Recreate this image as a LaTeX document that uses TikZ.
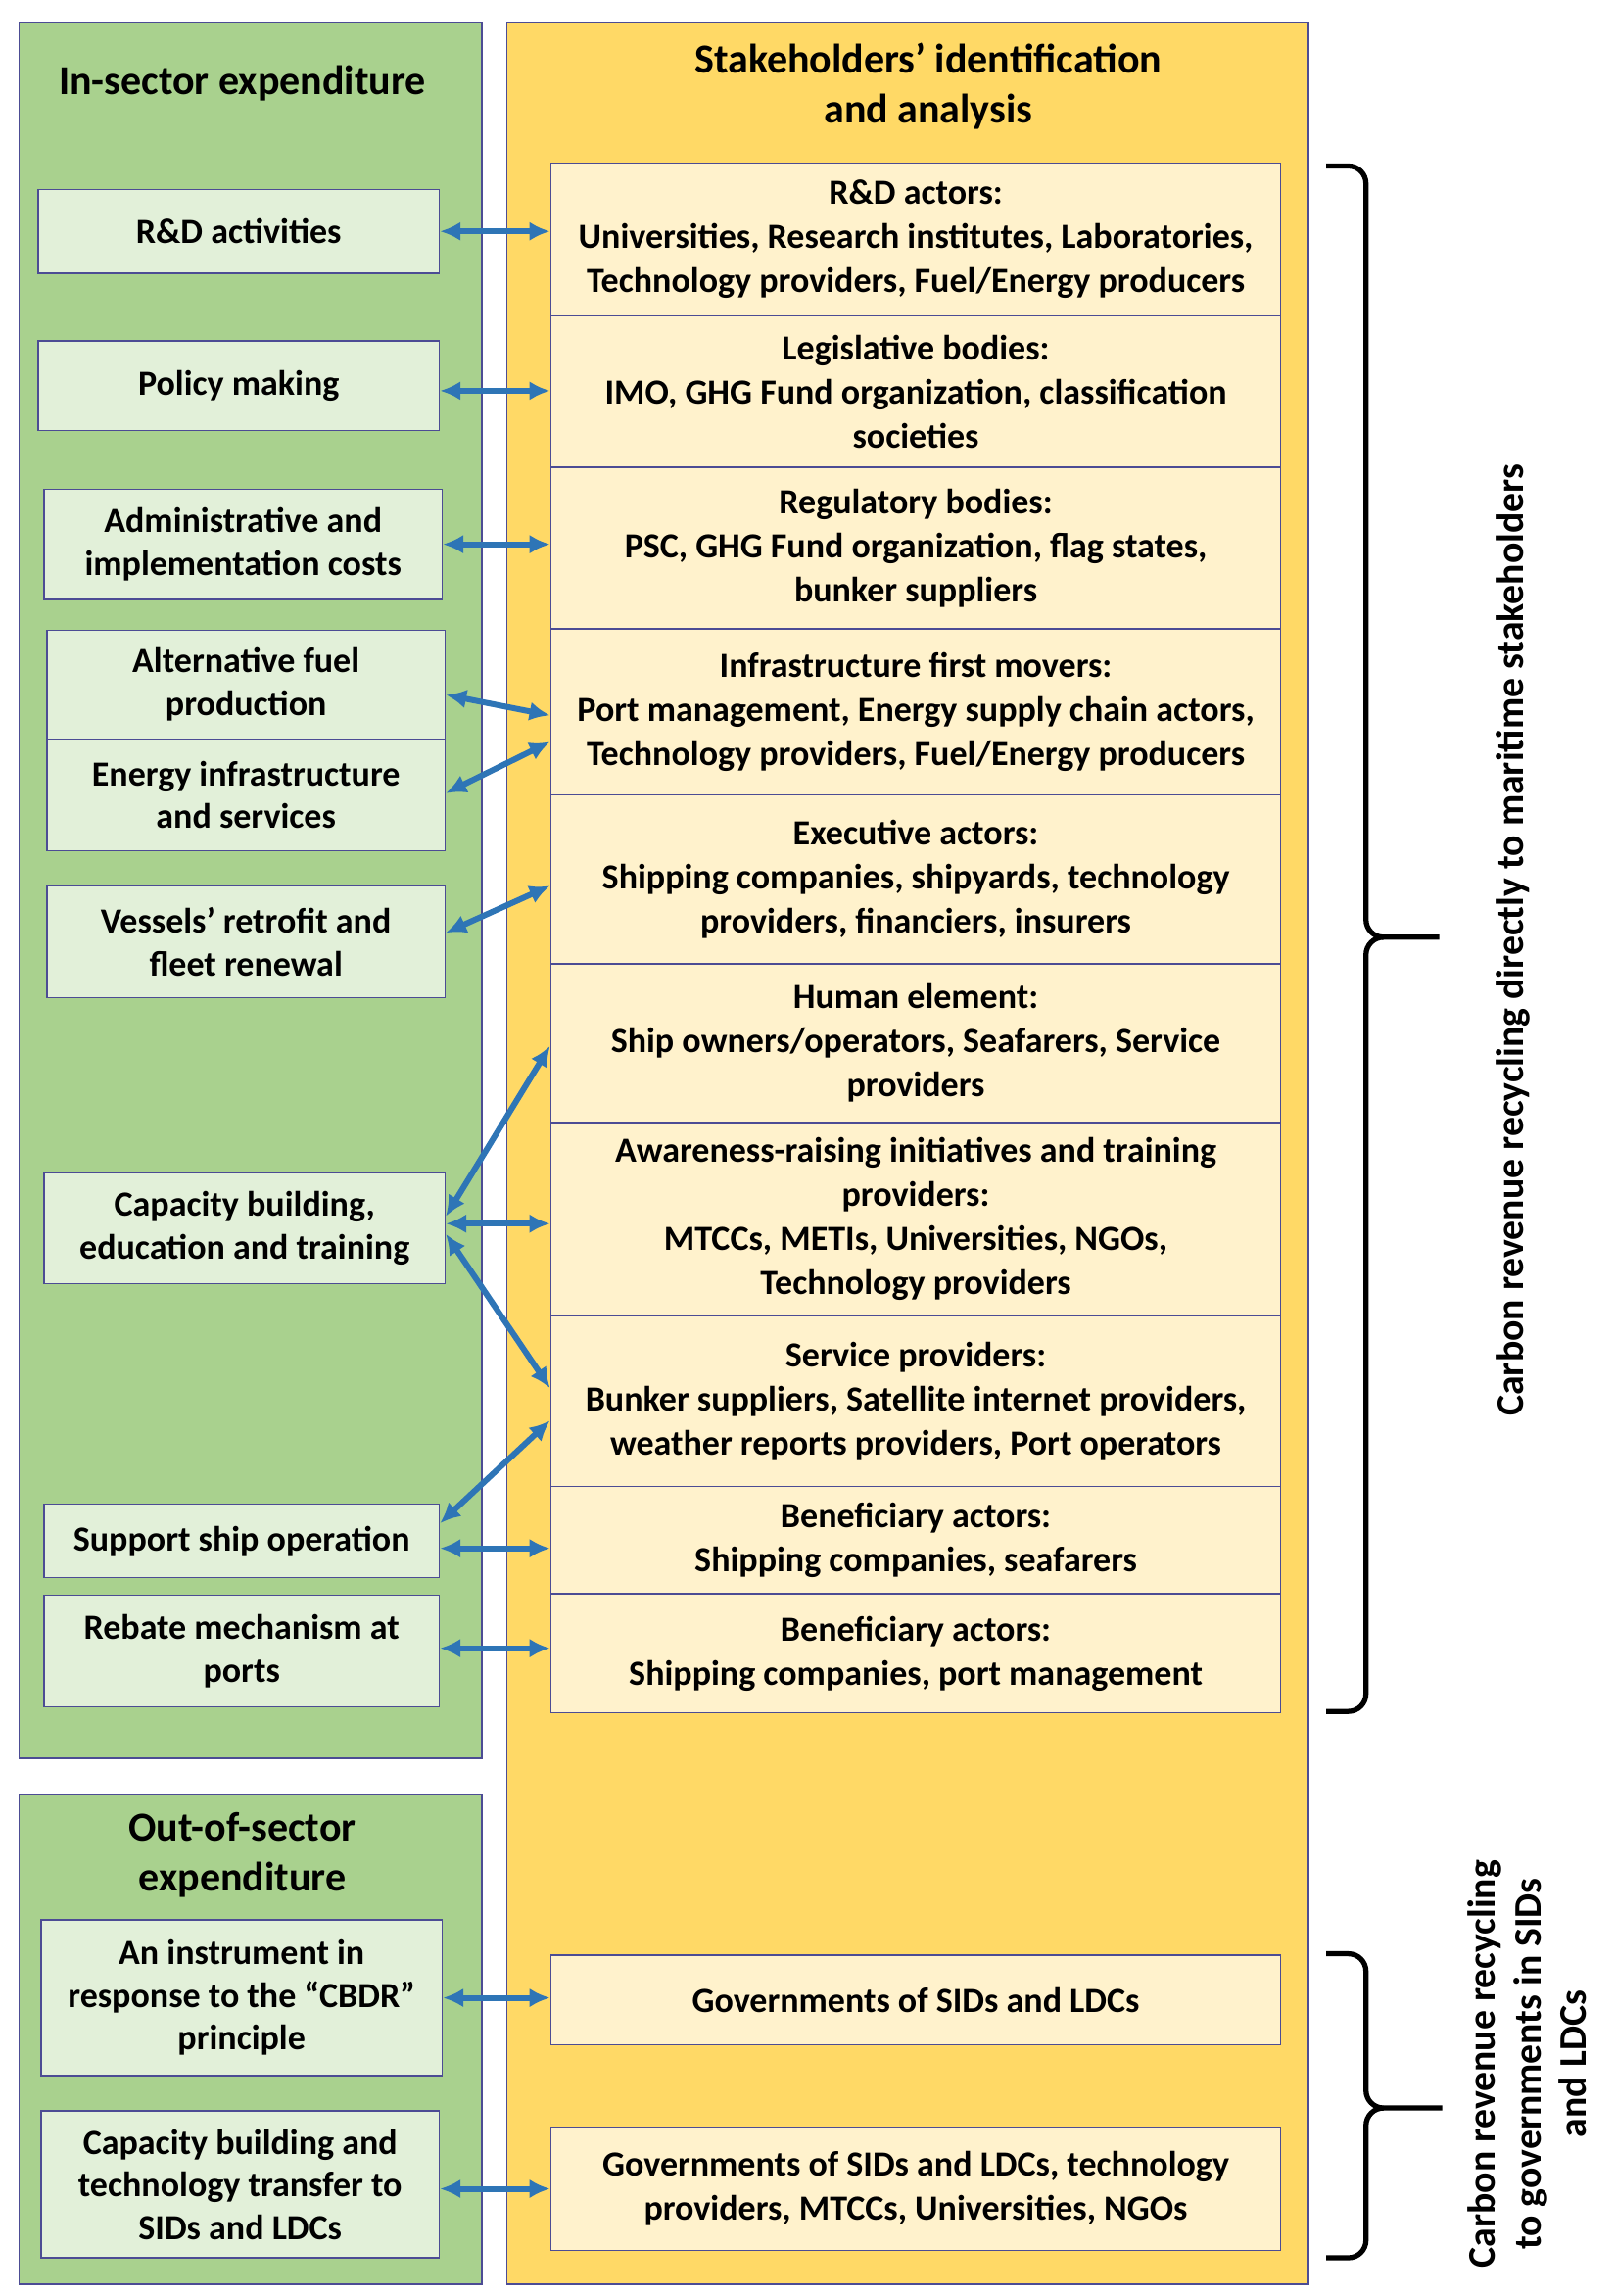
\documentclass[tikz,border=0pt]{standalone}
\usepackage{fontspec}
\setmainfont{Carlito}
\begin{document}
\begin{tikzpicture}[x=1pt,y=-1pt,
 panel/.style={draw=black!60!blue!70,line width=1pt},
 lbox/.style={draw=black!60!blue!70,line width=1pt,fill=lg,align=center,font=\fontsize{24}{29}\selectfont\bfseries,inner sep=0pt},
 rbox/.style={draw=black!60!blue!70,line width=1pt,fill=ly,align=center,font=\fontsize{24}{30}\selectfont\bfseries,inner sep=0pt},
 ttl/.style={align=center,font=\fontsize{28}{34}\selectfont\bfseries},
 arr/.style={<->,>={Latex[length=14pt,width=13pt]},draw=ab,line width=4pt},
 br/.style={draw=black,line width=3.5pt}]
\usetikzlibrary{arrows.meta}
\definecolor{lg}{HTML}{E2F0D9}\definecolor{ly}{HTML}{FFF2CC}
\definecolor{gp}{HTML}{A9D18E}\definecolor{yp}{HTML}{FFD966}\definecolor{ab}{HTML}{2E75B6}
\useasboundingbox (0,0) rectangle (1100,1563);
\fill[white] (0,0) rectangle (1100,1563);
\filldraw[panel,fill=gp] (13,15) rectangle (328,1197);
\filldraw[panel,fill=yp] (345,15) rectangle (891,1555);
\filldraw[panel,fill=gp] (13,1222) rectangle (328,1555);
\node[ttl] (t1) at (165,57) {In-sector expenditure};
\node[ttl] (t2) at (632,59) {Stakeholders’ identification\\and analysis};
\node[ttl] (t3) at (165,1263) {Out-of-sector\\expenditure};
\newcommand\LB[6]{\node[lbox,minimum width=#3-#2,minimum height=#5-#4] (#1) at ({(#2+#3)/2},{(#4+#5)/2}) {#6};}
\LB{l1}{26}{299}{129}{186}{R\&D activities}
\LB{l2}{26}{299}{232}{293}{Policy making}
\LB{l3}{30}{301}{333}{408}{Administrative and\\implementation costs}
\LB{l4}{32}{303}{429}{503}{Alternative fuel\\production}
\LB{l5}{32}{303}{503}{579}{Energy infrastructure\\and services}
\LB{l6}{32}{303}{603}{679}{Vessels’ retrofit and\\fleet renewal}
\LB{l7}{30}{303}{798}{874}{Capacity building,\\education and training}
\LB{l8}{30}{299}{1024}{1074}{Support ship operation}
\LB{l9}{30}{299}{1086}{1162}{Rebate mechanism at\\ports}
\LB{l10}{28}{301}{1307}{1413}{An instrument in\\response to the “CBDR”\\principle}
\LB{l11}{28}{299}{1437}{1537}{Capacity building and\\technology transfer to\\SIDs and LDCs}
\newcommand\RB[4]{\node[rbox,minimum width=497,minimum height=#3-#2] (#1) at (623.5,{(#2+#3)/2}) {#4};}
\RB{r1}{111}{215}{R\&D actors:\\Universities, Research institutes, Laboratories,\\Technology providers, Fuel/Energy producers}
\RB{r2}{215}{318}{Legislative bodies:\\IMO, GHG Fund organization, classification\\societies}
\RB{r3}{318}{428}{Regulatory bodies:\\PSC, GHG Fund organization, flag states,\\bunker suppliers}
\RB{r4}{428}{541}{Infrastructure first movers:\\Port management, Energy supply chain actors,\\Technology providers, Fuel/Energy producers}
\RB{r5}{541}{656}{Executive actors:\\Shipping companies, shipyards, technology\\providers, financiers, insurers}
\RB{r6}{656}{764}{Human element:\\Ship owners/operators, Seafarers, Service\\providers}
\RB{r7}{764}{896}{Awareness-raising initiatives and training\\providers:\\MTCCs, METIs, Universities, NGOs,\\Technology providers}
\RB{r8}{896}{1012}{Service providers:\\Bunker suppliers, Satellite internet providers,\\weather reports providers, Port operators}
\RB{r9}{1012}{1085}{Beneficiary actors:\\Shipping companies, seafarers}
\RB{r10}{1085}{1166}{Beneficiary actors:\\Shipping companies, port management}
\RB{r11}{1331}{1392}{Governments of SIDs and LDCs}
\RB{r12}{1448}{1532}{Governments of SIDs and LDCs, technology\\providers, MTCCs, Universities, NGOs}
% arrows
\draw[arr] (l1.east) -- (r1.west|-l1.east);
\draw[arr] (l2.east|-0,266) -- (r2.west|-0,266);
\draw[arr] (l3.east) -- (r3.west|-l3.east);
\draw[arr] (l4.east|-0,473) -- (r4.west|-0,487);
\draw[arr] (l5.east|-0,540) -- (r4.west|-0,505);
\draw[arr] (l6.east|-0,635) -- (r5.west|-0,603);
\draw[arr] (l7.east|-0,828) -- (r6.west|-0,712);
\draw[arr] (l7.east|-0,833) -- (r7.west|-0,833);
\draw[arr] (l7.east|-0,840) -- (r8.west|-0,945);
\draw[arr] (l8.east|-0,1037) -- (r8.west|-0,967);
\draw[arr] (l8.east|-0,1054) -- (r9.west|-0,1054);
\draw[arr] (l9.east|-0,1122) -- (r10.west|-0,1122);
\draw[arr] (l10.east) -- (r11.west|-l10.east);
\draw[arr] (l11.east|-0,1490) -- (r12.west|-0,1490);
% braces
\coordinate (b1) at (903,113);\coordinate (b2) at (903,1165);\coordinate (b3) at (980,638);
\draw[br] (b1) -- (918,113) to[out=0,in=90] (930,125) -- (930,626) to[out=-90,in=180] (942,638) -- (b3);
\draw[br] (b2) -- (918,1165) to[out=0,in=-90] (930,1153) -- (930,650) to[out=90,in=180] (942,638);
\coordinate (c1) at (903,1330);\coordinate (c2) at (903,1537);\coordinate (c3) at (982,1435);
\draw[br] (c1) -- (918,1330) to[out=0,in=90] (930,1342) -- (930,1423) to[out=-90,in=180] (942,1435) -- (c3);
\draw[br] (c2) -- (918,1537) to[out=0,in=-90] (930,1525) -- (930,1447) to[out=90,in=180] (942,1435);
\node[rotate=90,font=\fontsize{26.5}{30}\selectfont\bfseries] (lab1) at (1030,640) {Carbon revenue recycling directly to maritime stakeholders};
\node[rotate=90,align=center,font=\fontsize{26.5}{31}\selectfont\bfseries] (lab2) at (1040,1405) {Carbon revenue recycling\\to governments in SIDs\\and LDCs};
\end{tikzpicture}
\end{document}
